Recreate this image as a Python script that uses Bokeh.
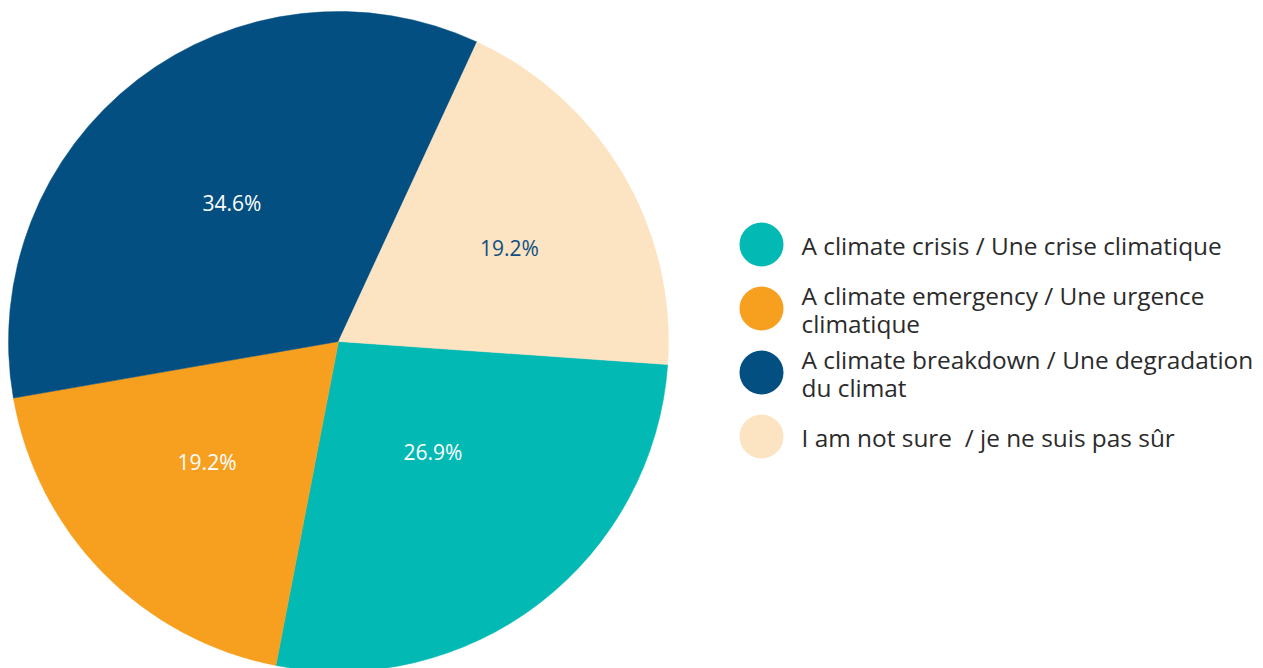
import math
from bokeh.plotting import figure
from bokeh.models import Range1d, ColumnDataSource
from bokeh.core.properties import value
from bokeh.embed import file_html
from bokeh.resources import INLINE

# ---- data ----
categories = [
    "A climate crisis / Une crise climatique",
    "A climate emergency / Une urgence\nclimatique",
    "A climate breakdown / Une degradation\ndu climat",
    "I am not sure  / je ne suis pas sûr",
]
percent = [26.9, 19.2, 34.6, 19.2]
colors = ["#03B9B4", "#F7A01F", "#034F82", "#FCE3C2"]
label_colors = ["#FFFFFF", "#FFFFFF", "#FFFFFF", "#0F4F82"]

# ---- layout ----
W, H = 1263, 668
cx, cy, R = 338, H - 341, 330
start_deg = -4.0
label_frac = [0.44, 0.54, 0.53, 0.59]
label_shift = [3.0, -2.0, 0.0, -2.0]  # small angular tweaks (degrees)

total = sum(percent)
starts, ends, lx, ly = [], [], [], []
acc = math.radians(start_deg)
for i, v in enumerate(percent):
    span = 2 * math.pi * v / total
    s = acc
    e = acc - span
    starts.append(e)
    ends.append(s)
    mid = acc - span / 2 + math.radians(label_shift[i])
    lx.append(cx + R * label_frac[i] * math.cos(mid))
    ly.append(cy + R * label_frac[i] * math.sin(mid))
    acc = e

p = figure(width=W, height=H, x_range=Range1d(0, W), y_range=Range1d(0, H),
           output_backend="svg", toolbar_location=None, min_border=0)
p.axis.visible = False
p.grid.visible = False
p.outline_line_color = None
p.background_fill_color = "white"

src = ColumnDataSource(dict(start=starts, end=ends, color=colors,
                            lx=lx, ly=ly,
                            lab=[f"{v:.1f}%" for v in percent],
                            lc=label_colors))
p.wedge(x=cx, y=cy, radius=R, start_angle="start", end_angle="end",
        fill_color="color", line_color="color", line_width=0.5, source=src)
p.text(x="lx", y="ly", text="lab", text_color="lc", text_font=value("Open Sans"),
       text_font_size="21px", text_align="center", text_baseline="middle", source=src)

# legend
lg_x = 761
lg_y = [H - 244 - 64 * i for i in range(len(categories))]
p.scatter(x=[lg_x] * len(categories), y=lg_y, size=44, marker="circle",
          fill_color=colors, line_color=None)
shown = [c.replace("  ", " \u00a0") for c in categories]
p.text(x=[801] * len(categories), y=[y - 1 for y in lg_y], text=shown,
       text_color="#2B2B2B", text_font=value("Open Sans"), text_font_size="24.4px",
       text_align="left", text_baseline="middle", text_line_height=0.87)

open("out.html", "w").write(file_html(p, INLINE))
